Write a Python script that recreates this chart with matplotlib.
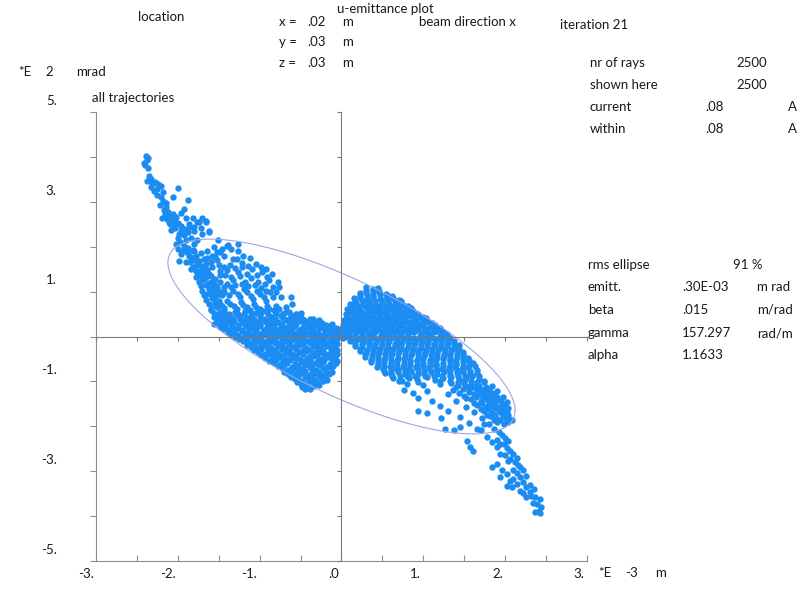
import numpy as np
import matplotlib
matplotlib.use("Agg")
from matplotlib import pyplot as plt

plt.rcParams['font.family'] = ['Lato', 'DejaVu Sans']

# twiss parameters of the rms ellipse (SI units)
emitt = 0.30e-3      # m rad
beta = 0.015         # m/rad
gamma = 157.297      # rad/m
alpha = 1.1633

# ray positions: x in 1E-3 m, x' in 1E2 mrad
upper_arm = [
    (-2.39, 4.03), (-2.38, 3.93), (-2.40, 3.81), (-2.36, 3.76), (-2.36, 3.98),
    (-2.41, 3.86), (-2.35, 3.58),
    (-2.38, 3.47), (-2.33, 3.50), (-2.28, 3.45), (-2.24, 3.40), (-2.33, 3.32),
    (-2.29, 3.25), (-2.21, 3.36), (-2.18, 3.21), (-2.26, 3.15), (-2.31, 3.40),
    (-2.26, 3.28), (-2.20, 3.10), (-2.18, 3.02), (-2.22, 2.92), (-2.17, 2.82),
    (-2.00, 3.30), (-2.06, 3.10), (-1.88, 3.05),
    (-2.15, 2.98), (-2.14, 2.88), (-2.12, 2.78), (-2.10, 2.68), (-2.16, 2.72),
    (-2.07, 2.62), (-2.11, 2.56), (-2.04, 2.55), (-2.09, 2.50), (-2.19, 2.64),
    (-2.13, 2.62), (-2.06, 2.72), (-2.02, 2.66), (-2.05, 2.48), (-2.00, 2.52),
    (-1.93, 2.85), (-1.96, 2.76), (-1.90, 2.63), (-1.82, 2.65), (-1.70, 2.63),
    (-1.66, 2.54), (-1.76, 2.54), (-1.96, 2.45), (-2.08, 2.38), (-1.92, 2.40),
    (-1.86, 2.44),
    (-1.62, 2.32), (-1.72, 2.41), (-1.80, 2.36), (-1.88, 2.32), (-1.96, 2.36),
    (-2.00, 2.20), (-2.03, 2.42), (-1.98, 2.28), (-1.84, 2.20), (-1.90, 2.15),
    (-2.02, 2.05), (-1.92, 2.25),
    (-1.97, 2.10), (-1.93, 2.02), (-1.95, 1.90), (-1.88, 1.85), (-1.84, 1.78),
    (-1.80, 1.90), (-1.85, 1.66), (-1.79, 1.70), (-1.82, 1.55), (-1.76, 1.60),
    (-1.78, 1.45), (-1.72, 1.48), (-1.76, 1.35), (-1.70, 1.38), (-1.74, 1.22),
    (-1.68, 1.28), (-1.72, 1.12), (-1.65, 1.15), (-1.70, 1.02), (-1.62, 1.05),
    (-1.68, 0.92), (-1.60, 0.95), (-1.66, 0.82), (-1.58, 0.85), (-1.62, 0.72),
    (-1.55, 0.75), (-1.60, 0.62), (-1.52, 0.65), (-1.56, 0.52), (-1.48, 0.55),
    (-1.50, 0.42), (-1.44, 0.45), (-1.45, 0.32), (-1.40, 0.35), (-1.42, 0.24),
    (-1.88, 1.98), (-1.80, 2.05), (-1.82, 1.92), (-1.78, 1.80), (-1.72, 1.85),
    (-1.74, 1.68), (-1.68, 1.72), (-1.70, 1.58), (-1.66, 1.62), (-1.68, 1.44),
    (-1.64, 1.48), (-1.66, 1.32), (-1.60, 1.35), (-1.62, 1.20), (-1.58, 1.12),
    (-1.56, 1.02), (-1.52, 0.92), (-1.50, 0.80), (-1.46, 0.68), (-1.44, 0.58),
]

left_spread = [
    (-2.00, 1.95), (-1.96, 1.84), (-1.92, 1.91), (-1.86, 1.80), (-1.98, 1.69),
    (-1.90, 1.66), (-1.82, 1.73), (-1.76, 1.62), (-1.84, 1.51), (-1.74, 1.43),
    (-1.68, 1.51), (-1.62, 1.40), (-1.78, 1.32), (-1.70, 1.25), (-1.60, 1.21),
    (-1.54, 1.28), (-1.48, 1.36), (-1.40, 1.47), (-1.35, 1.32), (-1.27, 1.43),
    (-1.21, 1.54), (-1.15, 1.40), (-1.09, 1.51), (-1.03, 1.36), (-0.97, 1.43),
    (-0.91, 1.32), (-0.85, 1.40), (-1.52, 1.10), (-1.43, 0.99), (-1.35, 1.10),
    (-1.27, 0.95), (-1.19, 1.06), (-1.11, 0.91), (-1.03, 1.02), (-0.95, 0.87),
    (-0.87, 0.99), (-1.64, 0.95), (-1.56, 0.84), (-1.48, 0.73), (-1.40, 0.80),
    (-1.31, 0.69), (-1.23, 0.76), (-1.15, 0.65), (-1.07, 0.73), (-0.99, 0.62),
    (-0.91, 0.69), (-0.83, 0.58), (-1.60, 0.58), (-1.52, 0.47), (-1.43, 0.54),
    (-1.35, 0.43), (-1.27, 0.51), (-1.19, 0.36), (-1.11, 0.43), (-1.03, 0.32),
    (-0.95, 0.40), (-0.87, 0.28), (-1.56, 0.28), (-1.48, 0.21),
    (-1.64, 1.91), (-1.56, 1.99), (-1.48, 1.88), (-1.40, 2.02), (-1.54, 1.77),
    (-1.43, 1.80), (-1.33, 1.73), (-1.27, 1.91), (-1.35, 1.95), (-1.76, 2.14),
    (-1.70, 2.29), (-1.62, 2.36), (-1.80, 2.44), (-1.86, 2.51), (-1.74, 2.55),
    (-1.66, 2.58), (-1.51, 2.14), (-1.39, 2.03), (-1.27, 2.07),
    (-0.78, 1.21), (-0.76, 1.10), (-0.80, 0.99), (-0.74, 0.88), (-0.62, 0.88),
    (-0.60, 0.73), (-0.68, 0.65), (-0.76, 0.62), (-0.72, 0.50), (-0.64, 0.54),
    (-0.56, 0.50),
    (-1.58, 1.55), (-1.50, 1.60), (-1.44, 1.55), (-1.36, 1.60), (-1.30, 1.52),
    (-1.22, 1.64), (-1.14, 1.58), (-1.48, 1.45), (-1.42, 1.38), (-1.32, 1.26),
    (-1.24, 1.34), (-1.18, 1.22), (-1.10, 1.30), (-1.02, 1.22), (-0.94, 1.18),
    (-0.88, 1.26), (-1.56, 1.18), (-1.48, 1.22), (-1.44, 1.10), (-1.40, 1.18),
    (-1.30, 1.14), (-1.22, 1.18), (-1.14, 1.12), (-1.06, 1.14), (-0.98, 1.08),
    (-0.92, 1.02), (-0.84, 1.10), (-1.58, 1.04), (-1.50, 1.02), (-1.46, 0.92),
    (-1.38, 0.92), (-1.32, 1.02), (-1.24, 0.88), (-1.16, 0.98), (-1.08, 0.84),
    (-1.00, 0.94), (-0.92, 0.80), (-0.84, 0.88), (-1.54, 0.70), (-1.44, 0.64),
    (-1.36, 0.72), (-1.28, 0.62), (-1.20, 0.70), (-1.12, 0.58), (-1.04, 0.66),
    (-0.96, 0.56), (-0.88, 0.62), (-0.80, 0.68), (-1.52, 0.36), (-1.56, 0.44),
    (-1.50, 0.30), (-1.20, 1.80), (-1.12, 1.74), (-1.05, 1.62), (-0.98, 1.55),
    (-0.92, 1.50), (-1.28, 1.72), (-1.46, 1.95), (-1.52, 1.88), (-1.58, 1.80),
    (-1.64, 1.74), (-1.60, 1.66), (-1.52, 1.70),
]

left_core = [
    (-1.30, 0.55), (-1.18, 0.57), (-1.05, 0.53), (-0.92, 0.56), (-0.80, 0.52),
    (-0.68, 0.55), (-0.55, 0.50),
    (-1.36, 0.44), (-1.25, 0.46), (-1.12, 0.42), (-1.00, 0.45), (-0.86, 0.43),
    (-0.74, 0.46), (-0.62, 0.41), (-0.50, 0.44), (-0.38, 0.40),
    (-1.40, 0.32), (-1.31, 0.35), (-1.22, 0.30), (-1.13, 0.34), (-1.04, 0.31),
    (-0.95, 0.35), (-0.86, 0.30), (-0.77, 0.33), (-0.68, 0.36), (-0.59, 0.31),
    (-0.50, 0.34), (-0.41, 0.30), (-0.32, 0.33), (-0.24, 0.29),
    (-1.42, 0.21), (-1.34, 0.24), (-1.26, 0.20), (-1.17, 0.23), (-1.08, 0.19),
    (-0.99, 0.24), (-0.91, 0.21), (-0.82, 0.18), (-0.74, 0.23), (-0.65, 0.20),
    (-0.57, 0.24), (-0.48, 0.19), (-0.40, 0.22), (-0.31, 0.25), (-0.22, 0.20),
    (-0.14, 0.23), (-0.07, 0.19),
    (-1.39, 0.11), (-1.31, 0.08), (-1.22, 0.12), (-1.14, 0.09), (-1.05, 0.13),
    (-0.97, 0.08), (-0.88, 0.11), (-0.80, 0.14), (-0.71, 0.09), (-0.63, 0.12),
    (-0.54, 0.08), (-0.46, 0.13), (-0.37, 0.10), (-0.29, 0.07), (-0.20, 0.12),
    (-0.12, 0.09), (-0.04, 0.11),
    (-1.30, 0.00), (-1.21, -0.03), (-1.13, 0.02), (-1.04, -0.02), (-0.96, 0.03),
    (-0.87, -0.01), (-0.79, 0.02), (-0.70, -0.03), (-0.62, 0.01), (-0.53, -0.02),
    (-0.45, 0.03), (-0.36, 0.00), (-0.28, -0.02), (-0.19, 0.02), (-0.11, -0.01),
    (-0.03, 0.01), (0.04, 0.00),
    (-1.20, -0.11), (-1.11, -0.14), (-1.02, -0.10), (-0.94, -0.13), (-0.85, -0.09),
    (-0.77, -0.14), (-0.68, -0.11), (-0.60, -0.08), (-0.51, -0.13), (-0.43, -0.10),
    (-0.34, -0.14), (-0.26, -0.09), (-0.17, -0.12), (-0.08, -0.10),
    (-1.11, -0.23), (-1.03, -0.26), (-0.94, -0.22), (-0.86, -0.25), (-0.77, -0.21),
    (-0.69, -0.26), (-0.60, -0.23), (-0.52, -0.20), (-0.43, -0.25), (-0.35, -0.22),
    (-0.26, -0.26), (-0.18, -0.21), (-0.09, -0.24),
    (-1.02, -0.35), (-0.94, -0.38), (-0.85, -0.34), (-0.77, -0.37), (-0.68, -0.33),
    (-0.60, -0.38), (-0.51, -0.35), (-0.43, -0.32), (-0.34, -0.37), (-0.26, -0.34),
    (-0.17, -0.38), (-0.09, -0.35),
    (-0.93, -0.47), (-0.85, -0.50), (-0.76, -0.46), (-0.68, -0.49), (-0.59, -0.45),
    (-0.51, -0.50), (-0.42, -0.47), (-0.34, -0.44), (-0.25, -0.49), (-0.17, -0.46),
    (-0.08, -0.48),
    (-0.82, -0.59), (-0.74, -0.62), (-0.66, -0.58), (-0.57, -0.61), (-0.49, -0.57),
    (-0.40, -0.62), (-0.32, -0.59), (-0.23, -0.56), (-0.14, -0.61), (-0.07, -0.58),
    (-0.73, -0.71), (-0.65, -0.74), (-0.56, -0.70), (-0.48, -0.73), (-0.39, -0.69),
    (-0.31, -0.74), (-0.22, -0.71), (-0.13, -0.68),
    (-0.65, -0.83), (-0.57, -0.86), (-0.48, -0.82), (-0.40, -0.85), (-0.31, -0.81),
    (-0.23, -0.86), (-0.15, -0.83),
    (-0.57, -0.95), (-0.49, -0.98), (-0.40, -0.94), (-0.32, -0.97), (-0.24, -0.93),
    (-0.18, -0.96),
    (-0.50, -1.06), (-0.42, -1.09), (-0.34, -1.05), (-0.27, -1.08),
    (-0.45, -1.16), (-0.38, -1.18),
    # second, offset layer of the dense core
    (-1.47, 0.49), (-1.38, 0.51), (-1.28, 0.48), (-1.19, 0.50), (-1.10, 0.52),
    (-1.00, 0.49), (-0.90, 0.51), (-0.81, 0.48), (-0.72, 0.50), (-0.62, 0.47),
    (-0.50, 0.52),
    (-1.50, 0.38), (-1.42, 0.40), (-1.33, 0.37), (-1.24, 0.39), (-1.15, 0.41),
    (-1.07, 0.38), (-0.98, 0.40), (-0.90, 0.37), (-0.81, 0.39), (-0.72, 0.41),
    (-0.64, 0.38), (-0.55, 0.40), (-0.46, 0.37), (-0.35, 0.39), (-0.27, 0.36),
    (-1.46, 0.27), (-1.36, 0.29), (-1.27, 0.26), (-1.18, 0.28), (-1.09, 0.25),
    (-1.00, 0.27), (-0.91, 0.29), (-0.82, 0.26), (-0.73, 0.28), (-0.64, 0.25),
    (-0.55, 0.27), (-0.46, 0.29), (-0.37, 0.26), (-0.28, 0.28), (-0.19, 0.25),
    (-0.11, 0.27),
    (-1.45, 0.16), (-1.38, 0.14), (-1.30, 0.17), (-1.21, 0.15), (-1.13, 0.18),
    (-1.04, 0.16), (-0.95, 0.14), (-0.86, 0.17), (-0.78, 0.15), (-0.69, 0.18),
    (-0.61, 0.16), (-0.52, 0.14), (-0.44, 0.17), (-0.35, 0.15), (-0.27, 0.18),
    (-0.18, 0.16), (-0.10, 0.14), (-0.02, 0.17),
    (-1.35, 0.05), (-1.26, 0.04), (-1.18, 0.06), (-1.09, 0.05), (-1.00, 0.04),
    (-0.92, 0.06), (-0.83, 0.05), (-0.75, 0.04), (-0.66, 0.06), (-0.58, 0.05),
    (-0.49, 0.04), (-0.41, 0.06), (-0.32, 0.05), (-0.24, 0.04), (-0.15, 0.06),
    (-0.07, 0.05), (0.01, 0.04),
    (-1.25, -0.06), (-1.16, -0.07), (-1.07, -0.05), (-0.98, -0.06), (-0.90, -0.07),
    (-0.81, -0.05), (-0.73, -0.06), (-0.64, -0.07), (-0.56, -0.05), (-0.47, -0.06),
    (-0.39, -0.07), (-0.30, -0.05), (-0.22, -0.06), (-0.13, -0.07), (-0.05, -0.05),
    (0.02, -0.04),
    (-1.15, -0.18), (-1.07, -0.16), (-0.98, -0.19), (-0.90, -0.17), (-0.81, -0.15),
    (-0.73, -0.18), (-0.64, -0.16), (-0.56, -0.19), (-0.47, -0.17), (-0.39, -0.15),
    (-0.30, -0.18), (-0.22, -0.16), (-0.13, -0.19), (-0.05, -0.17),
    (-1.07, -0.30), (-0.98, -0.28), (-0.90, -0.31), (-0.81, -0.29), (-0.73, -0.27),
    (-0.64, -0.30), (-0.56, -0.28), (-0.47, -0.31), (-0.39, -0.29), (-0.30, -0.27),
    (-0.22, -0.30), (-0.13, -0.28), (-0.06, -0.31),
    (-0.98, -0.42), (-0.89, -0.40), (-0.81, -0.43), (-0.72, -0.41), (-0.64, -0.39),
    (-0.55, -0.42), (-0.47, -0.40), (-0.38, -0.43), (-0.30, -0.41), (-0.21, -0.39),
    (-0.13, -0.42), (-0.06, -0.40),
    (-0.88, -0.54), (-0.80, -0.52), (-0.72, -0.55), (-0.63, -0.53), (-0.55, -0.51),
    (-0.46, -0.54), (-0.38, -0.52), (-0.29, -0.55), (-0.21, -0.53), (-0.12, -0.51),
    (-0.05, -0.54),
    (-0.78, -0.66), (-0.70, -0.64), (-0.61, -0.67), (-0.53, -0.65), (-0.44, -0.63),
    (-0.36, -0.66), (-0.27, -0.64), (-0.18, -0.67), (-0.10, -0.65),
    (-0.70, -0.78), (-0.61, -0.76), (-0.53, -0.79), (-0.44, -0.77), (-0.36, -0.75),
    (-0.27, -0.78), (-0.19, -0.76), (-0.12, -0.79),
    (-0.62, -0.90), (-0.53, -0.88), (-0.45, -0.91), (-0.36, -0.89), (-0.28, -0.87),
    (-0.20, -0.90),
    (-0.54, -1.01), (-0.46, -1.03), (-0.38, -1.00), (-0.30, -1.02), (-0.23, -1.00),
    (-0.48, -1.12), (-0.41, -1.13), (-0.33, -1.11),
]

right_core = [
    (0.30, 1.10), (0.38, 1.06), (0.45, 1.08),
    (0.22, 0.97), (0.30, 1.00), (0.38, 0.96), (0.46, 0.99), (0.54, 0.95),
    (0.15, 0.85), (0.23, 0.88), (0.31, 0.84), (0.39, 0.87), (0.47, 0.83),
    (0.55, 0.88), (0.63, 0.85), (0.70, 0.82),
    (0.10, 0.73), (0.18, 0.76), (0.26, 0.72), (0.34, 0.75), (0.42, 0.71),
    (0.50, 0.76), (0.58, 0.73), (0.66, 0.70), (0.74, 0.72), (0.81, 0.68),
    (0.07, 0.61), (0.15, 0.64), (0.23, 0.60), (0.31, 0.63), (0.39, 0.59),
    (0.47, 0.64), (0.55, 0.61), (0.63, 0.58), (0.71, 0.63), (0.79, 0.60),
    (0.87, 0.57),
    (0.05, 0.49), (0.13, 0.52), (0.21, 0.48), (0.29, 0.51), (0.37, 0.47),
    (0.45, 0.52), (0.53, 0.49), (0.61, 0.46), (0.69, 0.51), (0.77, 0.48),
    (0.85, 0.45), (0.93, 0.50), (1.00, 0.44),
    (0.03, 0.37), (0.11, 0.40), (0.19, 0.36), (0.27, 0.39), (0.35, 0.35),
    (0.43, 0.40), (0.51, 0.37), (0.59, 0.34), (0.67, 0.39), (0.75, 0.36),
    (0.83, 0.33), (0.91, 0.38), (0.99, 0.35), (1.07, 0.32),
    (0.02, 0.25), (0.10, 0.28), (0.18, 0.24), (0.26, 0.27), (0.34, 0.23),
    (0.42, 0.28), (0.50, 0.25), (0.58, 0.22), (0.66, 0.27), (0.74, 0.24),
    (0.82, 0.21), (0.90, 0.26), (0.98, 0.23), (1.06, 0.20), (1.14, 0.25),
    (1.20, 0.20),
    (0.04, 0.13), (0.12, 0.16), (0.20, 0.12), (0.28, 0.15), (0.36, 0.11),
    (0.44, 0.16), (0.52, 0.13), (0.60, 0.10), (0.68, 0.15), (0.76, 0.12),
    (0.84, 0.09), (0.92, 0.14), (1.00, 0.11), (1.08, 0.08), (1.16, 0.13),
    (1.24, 0.10),
    (0.08, 0.01), (0.16, 0.04), (0.24, 0.00), (0.32, 0.03), (0.40, -0.01),
    (0.48, 0.04), (0.56, 0.01), (0.64, -0.02), (0.72, 0.03), (0.80, 0.00),
    (0.88, -0.03), (0.96, 0.02), (1.04, -0.01), (1.12, -0.04), (1.20, 0.01),
    (1.28, -0.02),
    (0.10, -0.11), (0.18, -0.08), (0.26, -0.12), (0.34, -0.09), (0.42, -0.13),
    (0.50, -0.08), (0.58, -0.11), (0.66, -0.14), (0.74, -0.09), (0.82, -0.12),
    (0.90, -0.15), (0.98, -0.10), (1.06, -0.13), (1.14, -0.16), (1.22, -0.11),
    (1.30, -0.14), (1.38, -0.10),
    (0.17, -0.21), (0.25, -0.24), (0.33, -0.20), (0.41, -0.23), (0.49, -0.19),
    (0.57, -0.24), (0.65, -0.21), (0.73, -0.18), (0.81, -0.23), (0.89, -0.20),
    (0.97, -0.25), (1.05, -0.22), (1.13, -0.19), (1.21, -0.24), (1.29, -0.21),
    (1.37, -0.25), (1.44, -0.20),
    (0.22, -0.33), (0.30, -0.36), (0.38, -0.32), (0.46, -0.35), (0.54, -0.31),
    (0.62, -0.36), (0.70, -0.33), (0.78, -0.30), (0.86, -0.35), (0.94, -0.32),
    (1.02, -0.37), (1.10, -0.34), (1.18, -0.31), (1.26, -0.36), (1.34, -0.33),
    (1.42, -0.30), (1.49, -0.35),
    (0.29, -0.46), (0.37, -0.48), (0.45, -0.44), (0.53, -0.47), (0.61, -0.43),
    (0.69, -0.48), (0.77, -0.45), (0.85, -0.42), (0.93, -0.47), (1.01, -0.44),
    (1.09, -0.49), (1.17, -0.46), (1.25, -0.43), (1.33, -0.48), (1.41, -0.45),
    (1.49, -0.42), (1.55, -0.47),
    (0.36, -0.57), (0.44, -0.60), (0.52, -0.56), (0.60, -0.59), (0.68, -0.55),
    (0.76, -0.60), (0.84, -0.57), (0.92, -0.54), (1.00, -0.59), (1.08, -0.56),
    (1.16, -0.61), (1.24, -0.58), (1.32, -0.55), (1.40, -0.60), (1.48, -0.57),
    (1.56, -0.54), (1.61, -0.60),
    (0.43, -0.69), (0.51, -0.72), (0.59, -0.68), (0.67, -0.71), (0.75, -0.67),
    (0.83, -0.72), (0.91, -0.69), (0.99, -0.66), (1.07, -0.71), (1.15, -0.68),
    (1.23, -0.73), (1.31, -0.70), (1.39, -0.67), (1.47, -0.72), (1.55, -0.69),
    (1.63, -0.66),
    (0.53, -0.81), (0.61, -0.84), (0.69, -0.80), (0.77, -0.83), (0.85, -0.79),
    (0.93, -0.84), (1.01, -0.81), (1.09, -0.78), (1.17, -0.83), (1.25, -0.80),
    (1.33, -0.85), (1.41, -0.82), (1.49, -0.79), (1.57, -0.84), (1.65, -0.81),
    (0.63, -0.93), (0.72, -0.96), (0.82, -0.92), (0.92, -0.95), (1.04, -0.91),
    (1.14, -0.96), (1.24, -0.93), (1.34, -0.90), (1.44, -0.95), (1.52, -0.92),
    (1.60, -0.89), (1.68, -0.94),
    # second, offset layer of the dense core
    (0.30, 1.03), (0.38, 1.04), (0.46, 1.02),
    (0.23, 0.92), (0.31, 0.93), (0.39, 0.91), (0.47, 0.92), (0.55, 0.93),
    (0.62, 0.90),
    (0.17, 0.80), (0.25, 0.81), (0.33, 0.79), (0.41, 0.80), (0.49, 0.81),
    (0.57, 0.79), (0.65, 0.80), (0.73, 0.78),
    (0.13, 0.68), (0.21, 0.69), (0.29, 0.67), (0.37, 0.68), (0.45, 0.69),
    (0.53, 0.67), (0.61, 0.68), (0.69, 0.69), (0.77, 0.67), (0.85, 0.64),
    (0.09, 0.56), (0.17, 0.57), (0.25, 0.55), (0.33, 0.56), (0.41, 0.57),
    (0.49, 0.55), (0.57, 0.56), (0.65, 0.57), (0.73, 0.55), (0.81, 0.56),
    (0.89, 0.54),
    (0.07, 0.44), (0.15, 0.45), (0.23, 0.43), (0.31, 0.44), (0.39, 0.45),
    (0.47, 0.43), (0.55, 0.44), (0.63, 0.45), (0.71, 0.43), (0.79, 0.44),
    (0.87, 0.45), (0.95, 0.43), (1.03, 0.41),
    (0.06, 0.32), (0.14, 0.33), (0.22, 0.31), (0.30, 0.32), (0.38, 0.33),
    (0.46, 0.31), (0.54, 0.32), (0.62, 0.33), (0.70, 0.31), (0.78, 0.32),
    (0.86, 0.33), (0.94, 0.31), (1.02, 0.32), (1.10, 0.30),
    (0.06, 0.20), (0.14, 0.21), (0.22, 0.19), (0.30, 0.20), (0.38, 0.21),
    (0.46, 0.19), (0.54, 0.20), (0.62, 0.21), (0.70, 0.19), (0.78, 0.20),
    (0.86, 0.21), (0.94, 0.19), (1.02, 0.20), (1.10, 0.21), (1.18, 0.19),
    (0.09, 0.08), (0.17, 0.09), (0.25, 0.07), (0.33, 0.08), (0.41, 0.09),
    (0.49, 0.07), (0.57, 0.08), (0.65, 0.09), (0.73, 0.07), (0.81, 0.08),
    (0.89, 0.09), (0.97, 0.07), (1.05, 0.08), (1.13, 0.09), (1.21, 0.07),
    (1.29, 0.05),
    (0.12, -0.04), (0.20, -0.05), (0.28, -0.03), (0.36, -0.04), (0.44, -0.05),
    (0.52, -0.03), (0.60, -0.04), (0.68, -0.05), (0.76, -0.03), (0.84, -0.04),
    (0.92, -0.05), (1.00, -0.03), (1.08, -0.04), (1.16, -0.05), (1.24, -0.03),
    (1.32, -0.04),
    (0.17, -0.16), (0.25, -0.17), (0.33, -0.15), (0.41, -0.16), (0.49, -0.17),
    (0.57, -0.15), (0.65, -0.16), (0.73, -0.17), (0.81, -0.15), (0.89, -0.16),
    (0.97, -0.17), (1.05, -0.15), (1.13, -0.16), (1.21, -0.17), (1.29, -0.15),
    (1.37, -0.16),
    (0.23, -0.28), (0.31, -0.29), (0.39, -0.27), (0.47, -0.28), (0.55, -0.29),
    (0.63, -0.27), (0.71, -0.28), (0.79, -0.29), (0.87, -0.27), (0.95, -0.28),
    (1.03, -0.29), (1.11, -0.27), (1.19, -0.28), (1.27, -0.29), (1.35, -0.27),
    (1.43, -0.28),
    (0.29, -0.40), (0.37, -0.41), (0.45, -0.39), (0.53, -0.40), (0.61, -0.41),
    (0.69, -0.39), (0.77, -0.40), (0.85, -0.41), (0.93, -0.39), (1.01, -0.40),
    (1.09, -0.41), (1.17, -0.39), (1.25, -0.40), (1.33, -0.41), (1.41, -0.39),
    (1.49, -0.40),
    (0.36, -0.52), (0.44, -0.53), (0.52, -0.51), (0.60, -0.52), (0.68, -0.53),
    (0.76, -0.51), (0.84, -0.52), (0.92, -0.53), (1.00, -0.51), (1.08, -0.52),
    (1.16, -0.53), (1.24, -0.51), (1.32, -0.52), (1.40, -0.53), (1.48, -0.51),
    (1.56, -0.52),
    (0.44, -0.64), (0.52, -0.65), (0.60, -0.63), (0.68, -0.64), (0.76, -0.65),
    (0.84, -0.63), (0.92, -0.64), (1.00, -0.65), (1.08, -0.63), (1.16, -0.64),
    (1.24, -0.65), (1.32, -0.63), (1.40, -0.64), (1.48, -0.65), (1.56, -0.63),
    (0.52, -0.76), (0.61, -0.77), (0.69, -0.75), (0.77, -0.76), (0.85, -0.77),
    (0.93, -0.75), (1.01, -0.76), (1.09, -0.77), (1.17, -0.75), (1.25, -0.76),
    (1.33, -0.77), (1.41, -0.75), (1.49, -0.76), (1.57, -0.77), (1.65, -0.75),
    (0.62, -0.88), (0.71, -0.89), (0.80, -0.87), (0.90, -0.88), (1.02, -0.89),
    (1.13, -0.87), (1.23, -0.88), (1.33, -0.89), (1.42, -0.87), (1.51, -0.88),
    (1.60, -0.89), (1.68, -0.87),
    (0.74, -1.00), (0.94, -1.01), (1.20, -0.99), (1.32, -1.00), (1.42, -1.01),
    (1.50, -0.99), (1.58, -1.00), (1.66, -1.01), (1.74, -0.99),
]

lower_tail = [
    (0.70, -0.98), (0.76, -1.20), (0.87, -1.25), (0.93, -1.38), (0.94, -1.65),
    (0.80, -1.06), (1.00, -1.08), (1.20, -1.05), (1.34, -1.04), (1.42, -1.07),
    (1.50, -1.03), (1.58, -1.08), (1.66, -1.05), (1.74, -1.02),
    (1.05, -1.22), (1.36, -1.20), (1.48, -1.16), (1.56, -1.19), (1.64, -1.15),
    (1.72, -1.20), (1.80, -1.17),
    (1.30, -1.29), (1.50, -1.32), (1.62, -1.28), (1.70, -1.31), (1.78, -1.27),
    (1.86, -1.32),
    (1.10, -1.43), (1.40, -1.44), (1.58, -1.40), (1.70, -1.43), (1.78, -1.39),
    (1.86, -1.44), (1.94, -1.41),
    (1.20, -1.55), (1.52, -1.57), (1.66, -1.53), (1.76, -1.56), (1.84, -1.52),
    (1.92, -1.57), (2.00, -1.54),
    (1.05, -1.70), (1.30, -1.66), (1.62, -1.69), (1.74, -1.66), (1.84, -1.70),
    (1.92, -1.65), (2.02, -1.68),
    (1.22, -1.82), (1.45, -1.80), (1.72, -1.81), (1.82, -1.78), (1.90, -1.83),
    (1.98, -1.79), (2.05, -1.84),
    (1.56, -1.92), (1.80, -1.94), (1.90, -1.90), (1.98, -1.95), (2.04, -1.91),
    (1.40, -1.12), (1.52, -1.11), (1.60, -1.13), (1.68, -1.10), (1.76, -1.12),
    (1.84, -1.10), (1.44, -1.25), (1.56, -1.24), (1.66, -1.23), (1.76, -1.24),
    (1.84, -1.25), (1.90, -1.22), (1.52, -1.36), (1.64, -1.35), (1.74, -1.35),
    (1.82, -1.36), (1.90, -1.35), (1.97, -1.34), (1.62, -1.48), (1.72, -1.49),
    (1.80, -1.47), (1.88, -1.48), (1.96, -1.49), (2.02, -1.46), (1.70, -1.61),
    (1.80, -1.62), (1.88, -1.60), (1.96, -1.61), (2.03, -1.60), (1.78, -1.74),
    (1.88, -1.75), (1.96, -1.73), (2.04, -1.74), (1.86, -1.87), (1.94, -1.86),
    (2.02, -1.88), (2.08, -1.86),
    (1.45, -2.02), (1.37, -2.09), (1.27, -2.06), (1.70, -2.09), (1.74, -1.94),
    (1.65, -2.06), (1.78, -2.24), (1.84, -2.35), (1.53, -2.32), (1.57, -2.47),
    (1.61, -2.54), (1.90, -2.47), (1.98, -2.39), (2.04, -2.32),
    (1.94, -2.61), (2.00, -2.65), (2.06, -2.72), (2.12, -2.80), (2.18, -2.91),
    (2.10, -2.98), (1.84, -2.91), (1.90, -2.84), (1.96, -2.98), (2.02, -3.06),
    (1.94, -3.13), (2.10, -3.17), (2.18, -3.13), (2.22, -3.25), (2.02, -3.32),
    (2.08, -3.36), (2.18, -3.43), (2.26, -3.36), (2.30, -3.47), (2.35, -3.39),
    (2.37, -3.58), (2.26, -3.58), (2.39, -3.73), (2.41, -3.88), (2.37, -3.91),
    (1.86, -2.05), (1.92, -2.12), (1.96, -2.20), (2.00, -2.26), (1.90, -2.30),
    (1.94, -2.40), (2.02, -2.48), (2.06, -2.56), (2.10, -2.62), (2.14, -2.70),
    (2.04, -2.78), (2.16, -2.86), (2.22, -2.98), (2.14, -3.04), (2.26, -3.10),
    (2.06, -3.22), (2.14, -3.28), (2.30, -3.30), (2.22, -3.48), (2.32, -3.56),
    (2.42, -3.62), (2.34, -3.70), (2.44, -3.80), (2.43, -3.94),
]

ytick_values = [5, 3, 1, -1, -3, -5]
xtick_values = [-3, -2, -1, 0, 1, 2, 3]

W, H = 804, 591
fig = plt.figure(figsize=(W / 100, H / 100), dpi=100)
fig.patch.set_facecolor('white')

rect = [96 / W, 1 - 561 / H, (587 - 96) / W, (561 - 112) / H]
ax = fig.add_axes(rect)
axis_color = '#8f8f8f'

ax.set_xlim(-3, 3)
ax.set_ylim(-5, 5)
for side in ('top', 'right'):
    ax.spines[side].set_visible(False)
for side in ('left', 'bottom'):
    ax.spines[side].set_color(axis_color)
    ax.spines[side].set_linewidth(0.8)
ax.set_yticks(np.arange(-5, 6, 1))
ax.set_xticks(np.arange(-3, 3.01, 0.5))
ax.tick_params(axis='y', direction='out', length=4, width=0.8, color=axis_color,
               labelleft=False)
ax.tick_params(axis='x', direction='in', length=4, width=0.8, color=axis_color,
               labelbottom=False)

# rays
pts = np.array(upper_arm + left_spread + left_core + right_core + lower_tail)
ax.scatter(pts[:, 0], pts[:, 1], s=21, color='#1b8cf2', linewidths=0, zorder=2)

# rms ellipse from twiss parameters, x in mm and x' in 1E2 mrad
t = np.linspace(0, 2 * np.pi, 400)
ex = np.sqrt(emitt * beta) * np.cos(t)
ep = -np.sqrt(emitt / beta) * (alpha * np.cos(t) + np.sin(t))
ax.plot(ex / 1e-3, ep / 0.1, color='#a3a3e6', lw=0.8, zorder=3)

# axes through the origin
ax0 = fig.add_axes(rect, sharex=ax, sharey=ax)
ax0.patch.set_visible(False)
for side in ('top', 'right'):
    ax0.spines[side].set_visible(False)
for side in ('left', 'bottom'):
    ax0.spines[side].set_position(('data', 0))
    ax0.spines[side].set_color('#7a7a7a')
    ax0.spines[side].set_linewidth(0.8)
ax0.tick_params(axis='both', direction='out', length=3, width=0.8, color='#7a7a7a',
                labelleft=False, labelbottom=False)

txt = dict(fontsize=9.5, color='#1a1a1a')
for v in ytick_values:
    ax.text(-3.48, v + 0.25, f'{v}.', ha='right', va='center', clip_on=False, **txt)
for v in xtick_values:
    s = '.0' if v == 0 else f'{v}.'
    ax.text(v - 0.03, -5.28, s, ha='right', va='center', clip_on=False, **txt)


def label(px, py, s, ha='left'):
    fig.text(px / W, 1 - py / H, s, ha=ha, va='center', **txt)


label(138, 17, 'location')
label(385, 9, 'u-emittance plot', ha='center')
for row, (name, val) in enumerate([('x =', '.02'), ('y =', '.03'), ('z =', '.03')]):
    py = 22 + row * 20.5
    label(279, py, name)
    label(307, py, val)
    label(348, py, 'm', ha='center')
label(419, 22, 'beam direction x')
label(560, 25, 'iteration 21')

label(590, 63, 'nr of rays')
label(767, 63, '2500', ha='right')
label(590, 85, 'shown here')
label(767, 85, '2500', ha='right')
label(590, 107, 'current')
label(705, 107, '.08')
label(792, 107, 'A', ha='center')
label(590, 129, 'within')
label(705, 129, '.08')
label(792, 129, 'A', ha='center')

label(588, 265, 'rms ellipse')
label(733, 265, '91 %')
label(588, 287, 'emitt.')
label(682, 287, '.30E-03')
label(757, 287, 'm rad')
label(588, 310, 'beta')
label(682, 310, '.015')
label(757, 310, 'm/rad')
label(588, 333, 'gamma')
label(682, 333, '157.297')
label(757, 333, 'rad/m')
label(588, 355, 'alpha')
label(682, 355, '1.1633')

label(18, 72, '*E')
label(45, 72, '2')
label(76, 72, 'mrad')
label(92, 98, 'all trajectories')

label(598, 573, '*E')
label(625, 573, '-3')
label(655, 573, 'm')

fig.savefig('out.png', dpi=100, facecolor='white')
